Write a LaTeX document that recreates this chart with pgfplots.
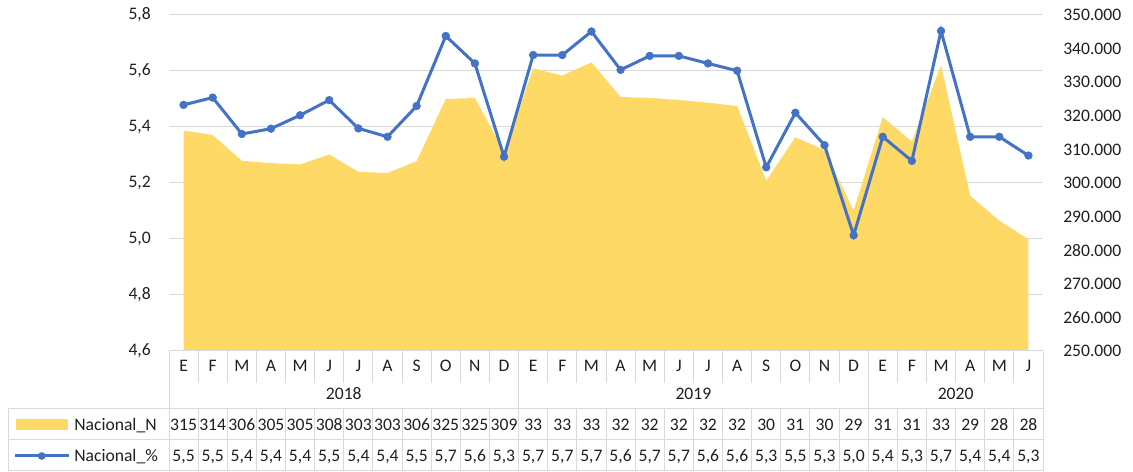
\documentclass[border=0pt]{standalone}
\usepackage{pgfplots}
\pgfplotsset{compat=1.18}
\usepackage{fontspec}
\setmainfont{Carlito}
\definecolor{gold}{HTML}{FFD966}
\definecolor{blu}{HTML}{4472C4}
\definecolor{grd}{HTML}{D9D9D9}
\definecolor{txt}{HTML}{1F1F1F}

\pgfplotstableread{
x y
0 315600
1 314300
2 306600
3 305900
4 305500
5 308500
6 303300
7 303000
8 306500
9 325000
10 325300
11 309300
12 334100
13 332000
14 335900
15 325600
16 325300
17 324700
18 323900
19 322900
20 300700
21 313600
22 309800
23 291800
24 319600
25 312300
26 335100
27 296200
28 288800
29 283200
}\areadata

\pgfplotstableread{
x y
0 5.479
1 5.505
2 5.375
3 5.394
4 5.442
5 5.496
6 5.395
7 5.365
8 5.475
9 5.725
10 5.627
11 5.294
12 5.657
13 5.657
14 5.741
15 5.604
16 5.654
17 5.654
18 5.627
19 5.601
20 5.256
21 5.451
22 5.335
23 5.013
24 5.365
25 5.279
26 5.743
27 5.365
28 5.365
29 5.298
}\linedata

\begin{document}
\fontsize{13.2}{15}\selectfont
\begin{tikzpicture}
\begin{scope}[x=0.75pt,y=-0.75pt]
\useasboundingbox (0,0) rectangle (1133,471);
\end{scope}
\pgfplotsset{every axis/.append style={
  width=655.5pt,height=252pt,scale only axis,
  at={(126.75pt,-263.25pt)}, anchor=south west,
  xmin=-0.5,xmax=29.5,
  axis line style={draw=none}, tick style={draw=none}, xtick=\empty,
  every tick label/.append style={font=\fontsize{13.2}{15}\selectfont, text=txt},
  scaled y ticks=false}}

% left axis with grid
\begin{axis}[ymin=4.6,ymax=5.8,
  ytick={4.6,4.8,5.0,5.2,5.4,5.6,5.8},
  yticklabels={{4,6},{4,8},{5,0},{5,2},{5,4},{5,6},{5,8}},
  ymajorgrids, grid style={grd, line width=0.75pt},
  yticklabel style={anchor=east, inner sep=0pt, xshift=-13.5pt}]
\addplot[draw=none] coordinates {(0,5)};
\end{axis}

% right axis with area
\begin{axis}[ymin=250000,ymax=350000,
  ytick={250000,260000,270000,280000,290000,300000,310000,320000,330000,340000,350000},
  yticklabels={250.000,260.000,270.000,280.000,290.000,300.000,310.000,320.000,330.000,340.000,350.000},
  yticklabel pos=right,
  yticklabel style={anchor=west, inner sep=0pt, xshift=15pt}]
\addplot[fill=gold, draw=none] table[x=x,y=y] {\areadata} \closedcycle;
\end{axis}

% line on top
\begin{axis}[ymin=4.6,ymax=5.8, ytick=\empty, clip=false]
\addplot[blu, line width=2.25pt, mark=*, mark size=2.9pt,
  mark options={solid, fill=blu, draw=blu, line width=0.4pt}] table[x=x,y=y] {\linedata};
\end{axis}

\begin{scope}[x=0.75pt,y=-0.75pt]
% data table
\begin{scope}[grd, line width=0.75pt]
\draw (169,351) -- (1043,351);
\foreach \i in {0,...,30} \draw ({169+\i*29.13333},351) -- ({169+\i*29.13333},383);
\foreach \i in {0,12,24,30} \draw ({169+\i*29.13333},383) -- ({169+\i*29.13333},408.5);
\draw (8,408.5) -- (1043,408.5);
\draw (8,440) -- (1043,440);
\draw (8,470.6) -- (1043,470.6);
\draw (8,408.5) -- (8,471);
\foreach \i in {0,...,30} \draw ({169+\i*29.13333},408.5) -- ({169+\i*29.13333},471);
\end{scope}

\begin{scope}[every node/.style={inner sep=0pt, text=txt, anchor=base}]
\foreach \m [count=\i from 0] in {E,F,M,A,M,J,J,A,S,O,N,D,E,F,M,A,M,J,J,A,S,O,N,D,E,F,M,A,M,J}
  \node at ({169+(\i+0.5)*29.13333},371.7) {\m};
\node at (343.8,400) {2018};
\node at (693.4,400) {2019};
\node at (955.6,400) {2020};
\foreach \v [count=\i from 0] in {315,314,306,305,305,308,303,303,306,325,325,309,33,33,33,32,32,32,32,32,30,31,30,29,31,31,33,29,28,28}
  \node at ({169+(\i+0.5)*29.13333},431) {\v};
\foreach \v [count=\i from 0] in {{5,5},{5,5},{5,4},{5,4},{5,4},{5,5},{5,4},{5,4},{5,5},{5,7},{5,6},{5,3},{5,7},{5,7},{5,7},{5,6},{5,7},{5,7},{5,6},{5,6},{5,3},{5,5},{5,3},{5,0},{5,4},{5,3},{5,7},{5,4},{5,4},{5,3}}
  \node at ({169+(\i+0.5)*29.13333},461.7) {\v};
\node[anchor=base west] at (74,431) {Nacional\_N};
\node[anchor=base west] at (74,461.7) {Nacional\_\%};
\end{scope}
\fill[gold] (16,419) rectangle (68,430);
\draw[blu, line width=2.25pt] (15,456) -- (69,456);
\fill[blu] (41.7,456) circle (2.9pt);
\end{scope}
\end{tikzpicture}
\end{document}
